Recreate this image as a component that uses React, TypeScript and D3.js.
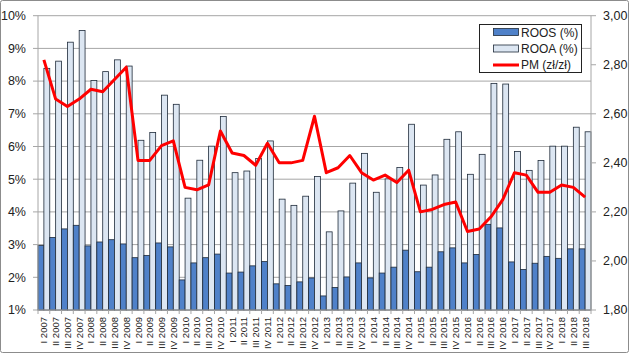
import React from 'react';
import * as d3 from 'd3';

// quarter labels
const quarters = [
  'I 2007', 'II 2007', 'III 2007', 'IV 2007',
  'I 2008', 'II 2008', 'III 2008', 'IV 2008',
  'I 2009', 'II 2009', 'III 2009', 'IV 2009',
  'I 2010', 'II 2010', 'III 2010', 'IV 2010',
  'I 2011', 'II 2011', 'III 2011', 'IV 2011',
  'I 2012', 'II 2012', 'III 2012', 'IV 2012',
  'I 2013', 'II 2013', 'III 2013', 'IV 2013',
  'I 2014', 'II 2014', 'III 2014', 'IV 2014',
  'I 2015', 'II 2015', 'III 2015', 'IV 2015',
  'I 2016', 'II 2016', 'III 2016', 'IV 2016',
  'I 2017', 'II 2017', 'III 2017', 'IV 2017',
  'I 2018', 'II 2018', 'III 2018',
];

// ROOS (%)
const roos = [
  2.97, 3.22, 3.48, 3.59, 2.96, 3.08, 3.15, 3.02, 2.6, 2.67, 3.05, 2.93,
  1.92, 2.44, 2.6, 2.71, 2.13, 2.16, 2.35, 2.48, 1.8, 1.75, 1.86, 1.98,
  1.43, 1.69, 2.01, 2.44, 1.98, 2.13, 2.31, 2.83, 2.17, 2.31, 2.78, 2.9,
  2.44, 2.7, 3.62, 3.51, 2.47, 2.24, 2.43, 2.64, 2.58, 2.87, 2.87,
];

// ROOA (%)
const rooa = [
  8.39, 8.61, 9.19, 9.55, 8.02, 8.29, 8.65, 8.46, 6.19, 6.43, 7.57, 7.29,
  4.42, 5.58, 6.01, 6.92, 5.2, 5.25, 5.63, 6.17, 4.39, 4.2, 4.48, 5.08,
  3.39, 4.03, 4.88, 5.79, 4.6, 5.01, 5.36, 6.68, 4.82, 5.13, 6.22, 6.45,
  5.15, 5.76, 7.93, 7.91, 5.85, 5.27, 5.57, 6.01, 6.01, 6.59, 6.45,
];

// PM (zł/zł), right axis
const pm = [
  2.82, 2.66, 2.63, 2.66, 2.7, 2.69, 2.74, 2.79, 2.41, 2.41, 2.47, 2.49,
  2.3, 2.29, 2.31, 2.53, 2.44, 2.43, 2.39, 2.48, 2.4, 2.4, 2.41, 2.59,
  2.36, 2.38, 2.43, 2.36, 2.33, 2.35, 2.32, 2.37, 2.2, 2.21, 2.23, 2.24,
  2.12, 2.13, 2.18, 2.25, 2.36, 2.35, 2.28, 2.28, 2.31, 2.3, 2.26,
];

const leftTicks = [1, 2, 3, 4, 5, 6, 7, 8, 9, 10];
const rightTicks = [1.8, 2.0, 2.2, 2.4, 2.6, 2.8, 3.0];
const seriesNames = ['ROOS (%)', 'ROOA (%)', 'PM (zł/zł)'];

const W = 629;
const H = 354;
const FONT = '"Liberation Sans", Arial, sans-serif';
const BLUE = '#4f81c9';
const LIGHT = '#dce6f2';
const EDGE = '#1f2b3a';
const GRID = '#a6a6a6';

export default function App() {
  const left = 38;
  const right = 591;
  const top = 15.7;
  const bottom = 310;

  const x = d3.scaleBand().domain(quarters).range([left, right]).padding(0);
  const inner = d3.scaleBand().domain(['roos', 'rooa']).range([0, x.bandwidth()]).padding(0);
  const yL = d3.scaleLinear().domain([1, 10]).range([bottom, top]);
  const yR = d3.scaleLinear().domain([1.8, 3.0]).range([bottom, top]);

  const line = d3
    .line<number>()
    .x((_, i) => (x(quarters[i]) as number) + x.bandwidth() / 2)
    .y((d) => yR(d));

  const fmtR = (v: number) => v.toFixed(2).replace('.', ',');

  return (
    <div style={{ position: 'fixed', left: 0, top: 0 }}>
      <svg width={W} height={H} style={{ display: 'block', background: '#fff' }} fontFamily={FONT}>
        <rect x={0.5} y={0.5} width={W - 1} height={H - 2} fill="#fff" stroke="#8c8c8c" rx={2} />

        {/* gridlines + left ticks */}
        {leftTicks.map((t) => (
          <line key={'g' + t} x1={left - 5} x2={right} y1={yL(t)} y2={yL(t)} stroke={GRID} strokeWidth={1} />
        ))}

        {/* bars */}
        {quarters.map((q, i) => {
          const bx = x(q) as number;
          return (
            <g key={q}>
              <rect
                x={bx + (inner('roos') as number)}
                y={yL(roos[i])}
                width={inner.bandwidth()}
                height={yL(1) - yL(roos[i])}
                fill={BLUE}
                stroke={EDGE}
                strokeWidth={0.8}
              />
              <rect
                x={bx + (inner('rooa') as number)}
                y={yL(rooa[i])}
                width={inner.bandwidth()}
                height={yL(1) - yL(rooa[i])}
                fill={LIGHT}
                stroke={EDGE}
                strokeWidth={0.8}
              />
            </g>
          );
        })}

        {/* axes lines */}
        <line x1={left} x2={left} y1={top} y2={bottom} stroke={GRID} />
        <line x1={right} x2={right} y1={top} y2={bottom} stroke={GRID} />
        <line x1={left} x2={right} y1={bottom} y2={bottom} stroke={GRID} />
        {quarters.map((q) => (
          <line
            key={'xt' + q}
            x1={x(q) as number}
            x2={x(q) as number}
            y1={bottom}
            y2={bottom + 4}
            stroke={GRID}
          />
        ))}
        <line x1={right} x2={right} y1={bottom} y2={bottom + 4} stroke={GRID} />
        {rightTicks.map((t) => (
          <line key={'rt' + t} x1={right} x2={right + 5} y1={yR(t)} y2={yR(t)} stroke={GRID} />
        ))}

        {/* PM line */}
        <path d={line(pm) || ''} fill="none" stroke="#ff0000" strokeWidth={3} strokeLinejoin="round" />

        {/* left axis labels */}
        {leftTicks.map((t) => (
          <text key={'lt' + t} x={26} y={yL(t)} dy="0.35em" textAnchor="end" fontSize={12.5} fill="#222">
            {t + '%'}
          </text>
        ))}

        {/* right axis labels */}
        {rightTicks.map((t) => (
          <text key={'rl' + t} x={603} y={yR(t)} dy="0.35em" textAnchor="start" fontSize={12.5} fill="#222">
            {fmtR(t)}
          </text>
        ))}

        {/* category labels */}
        {quarters.map((q) => {
          const cx = (x(q) as number) + x.bandwidth() / 2;
          return (
            <text
              key={'cl' + q}
              transform={`translate(${cx + 3.5},${bottom + 7}) rotate(-90)`}
              textAnchor="end"
              fontSize={9.5}
              fill="#222"
            >
              {q}
            </text>
          );
        })}

        {/* legend */}
        <g>
          <rect x={479.5} y={24.5} width={102} height={48} fill="#fff" stroke="#222" strokeWidth={1} />
          <rect x={493.5} y={28.5} width={25} height={7} fill={BLUE} stroke={EDGE} strokeWidth={0.8} />
          <rect x={493.5} y={45} width={25} height={7} fill={LIGHT} stroke={EDGE} strokeWidth={0.8} />
          <line x1={493} x2={519} y1={65} y2={65} stroke="#ff0000" strokeWidth={3} />
          {seriesNames.map((s, i) => (
            <text key={s} x={521} y={32.5 + i * 16.3} dy="0.35em" fontSize={12} fill="#222">
              {s}
            </text>
          ))}
        </g>
      </svg>
    </div>
  );
}
